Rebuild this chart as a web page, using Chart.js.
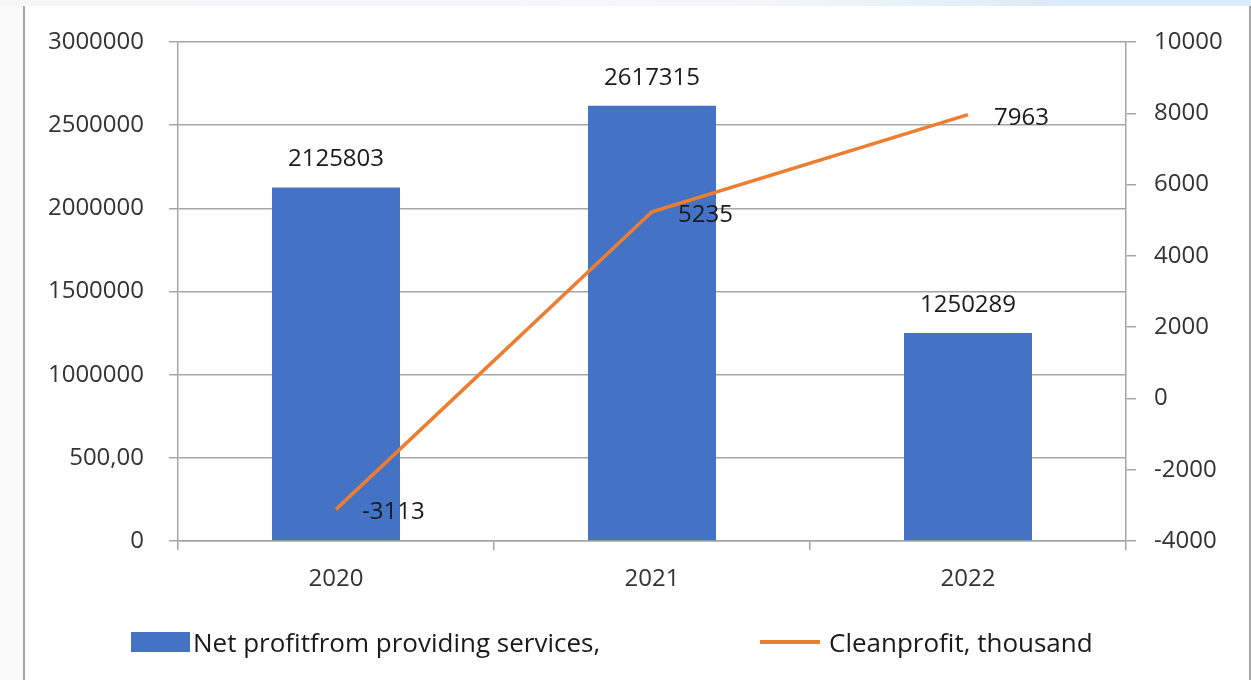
<!DOCTYPE html>
<html>
<head>
<meta charset="utf-8">
<script src="https://cdn.jsdelivr.net/npm/chart.js@4.4.1/dist/chart.umd.min.js"></script>
<style>
  html, body { margin: 0; padding: 0; background: #fafafa; }
  #wrap { position: relative; width: 1251px; height: 680px; overflow: hidden; }
  #topband { position: absolute; left: 0; top: 0; width: 1251px; height: 6px;
    background: linear-gradient(to right, #f7f7f7 0%, #f4f7fa 60%, #dcebf8 85%, #dcebf8 100%); }
  #frame { position: absolute; left: 23px; top: 6px; width: 1224px; height: 674px;
    background: #fff; border-left: 2px solid #a6a6a6; border-right: 2px solid #a6a6a6; }
  #chartBox { position: absolute; left: 0; top: 0; width: 1251px; height: 680px; }
  #legend { position: absolute; left: 131px; top: 622px; display: flex; align-items: center;
    font-family: "Open Sans", sans-serif; font-size: 26px; color: #1a1a1a; height: 40px; }
  .item { display: flex; align-items: center; }
</style>
</head>
<body>
<div id="wrap">
  <div id="topband"></div>
  <div id="frame"></div>
  <div id="chartBox"><canvas id="profitChart"></canvas></div>
  <div id="legend"></div>
</div>
<script>
// dữ liệu
const years = ["2020", "2021", "2022"];
const netProfit = [2125803, 2617315, 1250289];
const cleanProfit = [-3113, 5235, 7963];
const seriesNames = ["Net profitfrom providing services,", "Cleanprofit, thousand"];
const seriesColors = ["#4472C4", "#ED7D31"];
// nhãn trục trái (giữ nguyên "500,00" như trong hình)
const leftTickLabels = ["0", "500,00", "1000000", "1500000", "2000000", "2500000", "3000000"];
const rightTickLabels = ["-4000", "-2000", "0", "2000", "4000", "6000", "8000", "10000"];

const gridColor = "#a6a6a6";
const tickColor = "#333333";
const fontFamily = "'Open Sans', sans-serif";

// plugin vẽ số trên cột và bên cạnh điểm của đường
const valueLabels = {
  id: "valueLabels",
  afterDatasetsDraw(chart) {
    const ctx = chart.ctx;
    ctx.save();
    ctx.font = "24px " + fontFamily;
    ctx.fillStyle = "#1a1a1a";
    ctx.textBaseline = "alphabetic";
    chart.data.datasets.forEach((ds, i) => {
      const meta = chart.getDatasetMeta(i);
      meta.data.forEach((el, j) => {
        if (ds.type === "bar") {
          ctx.textAlign = "center";
          ctx.fillText(String(ds.data[j]), el.x, el.y - 21);
        } else {
          ctx.textAlign = "left";
          ctx.fillText(String(ds.data[j]), el.x + 26, el.y + 10);
        }
      });
    });
    ctx.restore();
  }
};

const ctx = document.getElementById("profitChart").getContext("2d");
const myChart = new Chart(ctx, {
  data: {
    labels: years,
    datasets: [
      {
        type: "bar",
        label: seriesNames[0],
        data: netProfit,
        backgroundColor: seriesColors[0],
        borderWidth: 0,
        barPercentage: 0.405,
        categoryPercentage: 1,
        yAxisID: "y",
        order: 2,
      },
      {
        type: "line",
        label: seriesNames[1],
        data: cleanProfit,
        borderColor: seriesColors[1],
        backgroundColor: seriesColors[1],
        borderWidth: 3.5,
        pointRadius: 0,
        tension: 0,
        yAxisID: "y1",
        order: 1,
      },
    ],
  },
  options: {
    responsive: true,
    maintainAspectRatio: false,
    animation: false,
    layout: { padding: { left: 0, right: 0, top: 42, bottom: 80 } },
    plugins: {
      legend: { display: false },
      tooltip: { enabled: false },
    },
    scales: {
      x: {
        offset: true,
        grid: { offset: true, drawOnChartArea: false, drawTicks: true, tickLength: 9, color: gridColor, lineWidth: 1.5 },
        border: { display: true, color: gridColor, width: 1.5 },
        ticks: { color: tickColor, font: { family: fontFamily, size: 24 }, padding: 15 },
        afterFit: (s) => { s.height = 59; },
      },
      y: {
        position: "left",
        min: 0,
        max: 3000000,
        ticks: {
          stepSize: 500000,
          color: tickColor,
          font: { family: fontFamily, size: 24 },
          padding: 25,
          callback: (v, i) => leftTickLabels[i],
        },
        grid: { color: gridColor, lineWidth: 1.5, tickLength: 9 },
        border: { display: true, color: gridColor, width: 1.5 },
        afterFit: (s) => { s.width = 178; },
      },
      y1: {
        position: "right",
        min: -4000,
        max: 10000,
        ticks: {
          stepSize: 2000,
          color: tickColor,
          font: { family: fontFamily, size: 24 },
          padding: 18,
          callback: (v, i) => rightTickLabels[i],
        },
        grid: { drawOnChartArea: false, color: gridColor, lineWidth: 1.5, tickLength: 10 },
        border: { display: true, color: gridColor, width: 1.5 },
        afterFit: (s) => { s.width = 125; },
      },
    },
  },
  plugins: [valueLabels],
});

// chú thích dạng HTML (khoảng cách giữa hai mục giống hình)
const legendEl = document.getElementById("legend");
seriesNames.forEach((name, i) => {
  const item = document.createElement("div");
  item.className = "item";
  const sw = document.createElement("span");
  sw.style.display = "inline-block";
  sw.style.background = seriesColors[i];
  if (i === 0) {
    sw.style.width = "59px"; sw.style.height = "20px"; sw.style.marginRight = "3px";
  } else {
    sw.style.width = "60px"; sw.style.height = "4px"; sw.style.marginRight = "9px";
  }
  const txt = document.createElement("span");
  txt.textContent = name;
  item.appendChild(sw);
  item.appendChild(txt);
  legendEl.appendChild(item);
});
// mục thứ hai bắt đầu ở x = 760
legendEl.children[0].style.width = (760 - 131) + "px";
</script>
</body>
</html>
